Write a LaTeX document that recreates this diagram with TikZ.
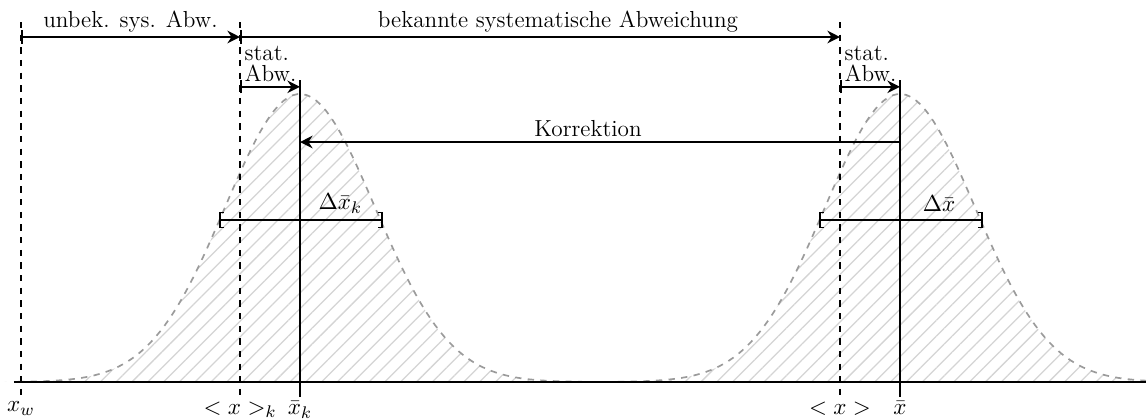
\documentclass[tikz,border=0pt]{standalone}
\usepackage{amsmath}
\usepackage{tikz}
\usetikzlibrary{positioning, arrows.meta, patterns.meta}
\definecolor{gaussgray}{RGB}{155, 155, 155}
\definecolor{hatchgray}{RGB}{212, 212, 212}

\begin{document}
\begin{tikzpicture}[>={Stealth[length=6pt, width=6pt, inset=2pt]},
    every node/.style={font=\fontsize{11}{13}\selectfont},
    meanline/.style={thick, dashed},
    valline/.style={thick},
    dimarrow/.style={thick, |->},
    errbar/.style={thick, {Bracket[width=8pt, length=2pt]}-{Bracket[width=8pt, length=2pt]}},
    gausscurve/.style={thick, dashed, gaussgray},
    gaussfill/.style={pattern={Lines[angle=45, distance=5.3pt, line width=0.6pt]}, pattern color=hatchgray},
    lbl/.style={anchor=north, inner sep=2pt}]
  \useasboundingbox (0,-0.617) rectangle (19.1,6.367);

  % verteilungen
  \fill[gaussfill] plot[domain=0:10, samples=120] (\x, {4.8*exp(-(\x-5)^2/3.125)}) -- cycle;
  \fill[gaussfill] plot[domain=10:19.1, samples=120] (\x, {4.8*exp(-(\x-15)^2/3.125)}) -- cycle;
  \draw[gausscurve] plot[domain=0.3:9.7, samples=120] (\x, {4.8*exp(-(\x-5)^2/3.125)});
  \draw[gausscurve] plot[domain=10.3:19.1, samples=120] (\x, {4.8*exp(-(\x-15)^2/3.125)});

  % achse
  \coordinate (axleft) at (0.233,0);
  \coordinate (axright) at (19.1,0);
  \draw[thick] (axleft) -- (axright);

  % beschriftung unten
  \node[lbl] (xw) at (0.35,-0.25) {$x_w$};
  \node[lbl] (mk) at (4,-0.25) {$<x>_k$};
  \node[lbl] (xk) at (5,-0.25) {$\bar{x}_k$};
  \node[lbl] (m) at (14,-0.25) {$<x>$};
  \node[lbl] (xb) at (15,-0.25) {$\bar{x}$};

  \coordinate (xwtop) at (0.35,6);
  \coordinate (mktop) at (4,6);
  \coordinate (xktop) at (5,5.03);
  \coordinate (mtop) at (14,6);
  \coordinate (xbtop) at (15,5.03);

  \draw[meanline] (xwtop) -- (xw.north);
  \draw[meanline] (mktop) -- (mk.north);
  \draw[valline] (xktop) -- (xk.north);
  \draw[meanline] (mtop) -- (m.north);
  \draw[valline] (xbtop) -- (xb.north);

  % systematische abweichungen
  \coordinate (sys0) at (0.35,5.75);
  \coordinate (sys1) at (4,5.75);
  \coordinate (sys2) at (14,5.75);
  \draw[dimarrow] (sys0) -- node[above, inner sep=2pt] {unbek. sys. Abw.} (sys1);
  \draw[dimarrow] (sys1) -- node[above, pos=0.53, inner sep=2pt] {bekannte systematische Abweichung} (sys2);

  % statistische abweichungen
  \coordinate (statk0) at (4,4.92);
  \coordinate (statk1) at (5,4.92);
  \coordinate (stat0) at (14,4.92);
  \coordinate (stat1) at (15,4.92);
  \draw[dimarrow] (statk0) -- (statk1);
  \draw[dimarrow] (stat0) -- (stat1);
  \node[anchor=south west, align=left, inner sep=2pt] (statklbl) at (statk0) {stat.\\[-3pt]Abw.};
  \node[anchor=south west, align=left, inner sep=2pt] (statlbl) at (stat0) {stat.\\[-3pt]Abw.};

  % korrektion
  \coordinate (korr0) at (15,4);
  \coordinate (korr1) at (5,4);
  \draw[thick, ->] (korr0) -- node[above, pos=0.52, inner sep=2pt] {Korrektion} (korr1);

  % fehlerbalken
  \coordinate (errk0) at (3.65,2.7);
  \coordinate (errk1) at (6.38,2.7);
  \coordinate (err0) at (13.65,2.7);
  \coordinate (err1) at (16.38,2.7);
  \draw[errbar] (errk0) -- (errk1);
  \draw[errbar] (err0) -- (err1);
  \node (dxk) at (5.67,2.97) {$\Delta\bar{x}_k$};
  \node (dx) at (15.65,2.97) {$\Delta\bar{x}$};
\end{tikzpicture}
\end{document}
